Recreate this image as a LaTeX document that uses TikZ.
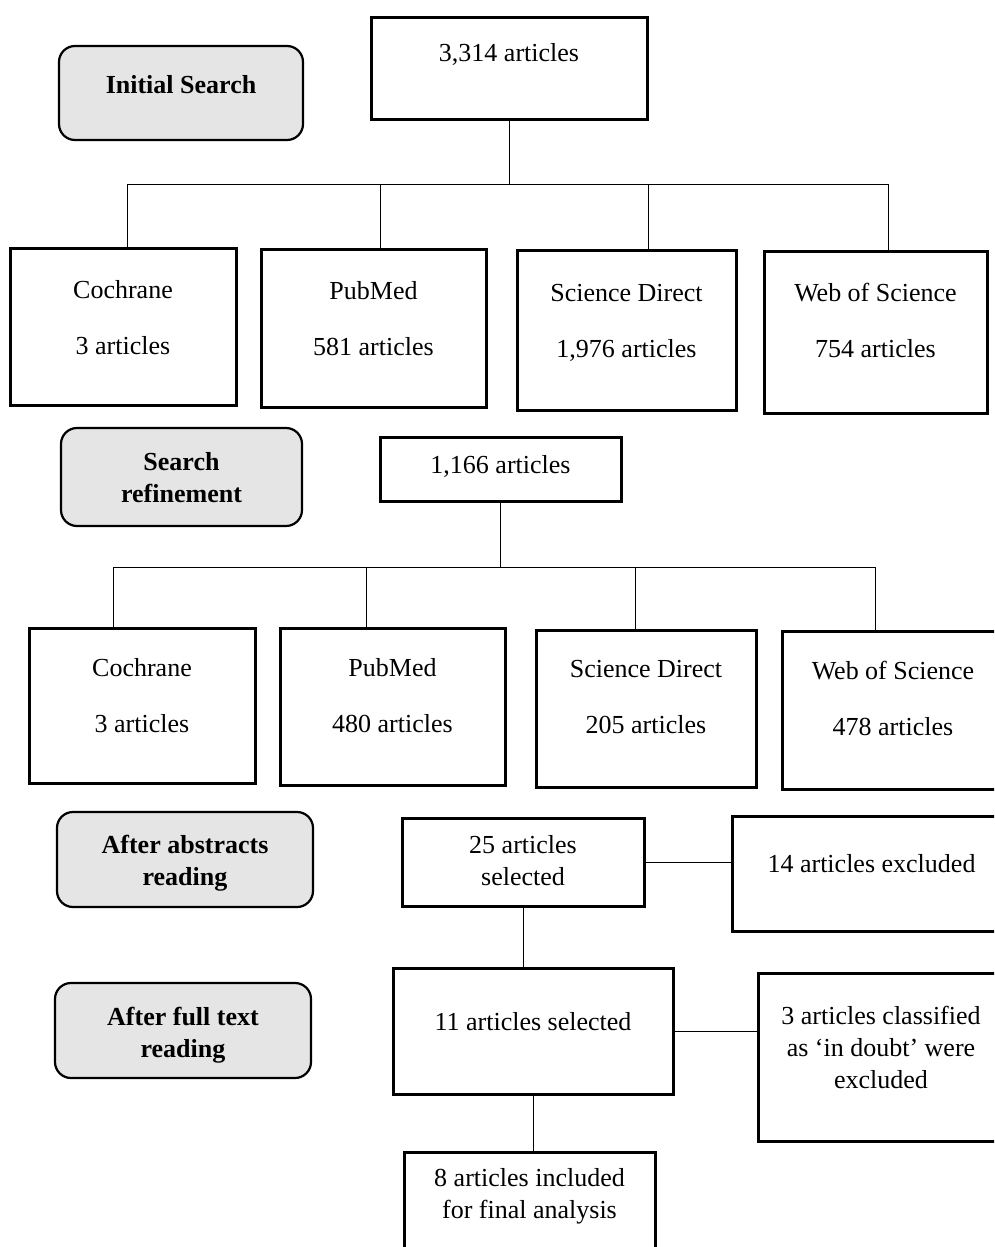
\documentclass[tikz,border=0pt]{standalone}
\usepackage{fontspec}
\setmainfont{Liberation Serif}
\begin{document}
\begin{tikzpicture}[x=1pt,y=-1pt,
  font=\fontsize{26}{32}\selectfont,
  countbox/.style={draw, line width=3pt, inner sep=0pt, outer sep=0pt, align=center, anchor=north west},
  stagebox/.style={draw, line width=2.2pt, rounded corners=16pt, fill=black!10, inner sep=0pt, outer sep=0pt, align=center, anchor=north west, font=\fontsize{26}{32}\selectfont\bfseries},
  boxdim/.style n args={3}{minimum width=#1pt, text height=#2pt, text depth=#3pt},
  link/.style={line width=0.9pt}]

\path[use as bounding box, clip] (0,0) rectangle (994,1247);

% initial search
\node[stagebox, boxdim={244}{47}{47}] (sinit) at (59,46) {Initial Search};
\node[countbox, boxdim={276}{44}{57}] (t1) at (371,18) {3,314 articles};

\node[countbox, boxdim={226}{106}{51}] (c1) at (10,248) {Cochrane\\[24pt]3 articles};
\node[countbox, boxdim={225}{106}{52}] (p1) at (261,249) {PubMed\\[24pt]581 articles};
\node[countbox, boxdim={219}{107}{53}] (d1) at (517,250) {Science Direct\\[24pt]1,976 articles};
\node[countbox, boxdim={223}{106}{56}] (w1) at (764,251) {Web of Science\\[24pt]754 articles};

\coordinate (b1l) at (127,184);
\coordinate (b1r) at (888,184);
\draw[link] (t1.south) -- (t1.south |- b1l);
\draw[link] (b1l) -- (b1r);
\foreach \n/\x in {c1/127, p1/380, d1/648, w1/888}
  \draw[link] (\x,184) -- (\n.north -| \x,184);

% search refinement
\node[stagebox, boxdim={241}{74}{24}] (sref) at (61,428) {Search\\refinement};
\node[countbox, boxdim={241}{36}{28}] (t2) at (380,437) {1,166 articles};

\node[countbox, boxdim={226}{104}{51}] (c2) at (29,628) {Cochrane\\[24pt]3 articles};
\node[countbox, boxdim={225}{104}{53}] (p2) at (280,628) {PubMed\\[24pt]480 articles};
\node[countbox, boxdim={220}{103}{54}] (d2) at (536,630) {Science Direct\\[24pt]205 articles};
\node[countbox, boxdim={222}{104}{54}] (w2) at (782,631) {Web of Science\\[24pt]478 articles};

\coordinate (b2l) at (113,567);
\coordinate (b2r) at (875,567);
\draw[link] (t2.south) -- (t2.south |- b2l);
\draw[link] (b2l) -- (b2r);
\foreach \n/\x in {c2/113, p2/366, d2/635, w2/875}
  \draw[link] (\x,567) -- (\n.north -| \x,567);

% abstracts
\node[stagebox, boxdim={256}{73}{22}] (sabs) at (57,812) {After abstracts\\reading};
\node[countbox, boxdim={242}{67}{21}] (a25) at (402,818) {25 articles\\selected};
\node[countbox, boxdim={279}{56}{59}] (x14) at (732,816) {14 articles excluded};
\draw[link] (a25.east) -- (a25.east -| x14.west);

% full text
\node[stagebox, boxdim={256}{74}{21}] (sfull) at (55,983) {After full text\\reading};
\node[countbox, boxdim={280}{62}{64}] (a11) at (393,968) {11 articles selected};
\node[countbox, boxdim={246}{115}{53}] (x3) at (758,973) {3 articles classified\\as ‘in doubt’ were\\excluded};
\draw[link] (a25.south) -- (a25.south |- a11.north);
\draw[link] (a11.east) -- (a11.east -| x3.west);

% final
\node[countbox, boxdim={251}{66}{44}] (f8) at (404,1152) {8 articles included\\for final analysis};
\draw[link] (a11.south) -- (a11.south |- f8.north);

\end{tikzpicture}
\end{document}
